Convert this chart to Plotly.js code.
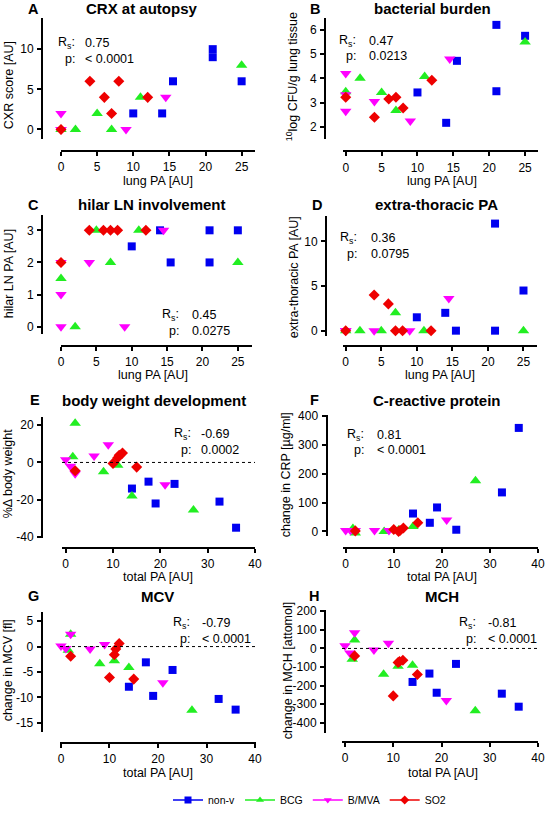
<!DOCTYPE html>
<html>
<head>
<meta charset="utf-8">
<script src="https://cdn.plot.ly/plotly-3.0.1.min.js"></script>
<style>html,body{margin:0;padding:0;background:#fff;}#chart{width:547px;height:815px;}</style>
</head>
<body>
<div id="chart"></div>
<script>
// ---------- DATA ----------
const groups = ['non-v', 'BCG', 'B/MVA', 'SO2'];

// Lung PA (x for panels A-D)
const lungPA_nonv = [10, 14, 15.5, 21, 21, 25];
const lungPA_bcg  = [0, 2, 5, 7, 11, 25];
const lungPA_bmva = [0, 0, 0, 4, 9, 14.5];
const lungPA_so2  = [0, 4, 6, 7, 8, 12];

// A: CXR score
const cxr_nonv = [2, 2, 6, 10, 9, 6];
const cxr_bcg  = [0, 0, 2, 0, 4, 8];
const cxr_bmva = [2, 0, 0, null, 0, 4];
const cxr_so2  = [0, 6, 4, 2, 6, 4];

// B: 10log CFU/g lung tissue
const cfu_nonv = [3.42, 2.17, 4.72, 6.2, 3.47, 5.75];
const cfu_bcg  = [3.45, 4.0, 3.42, 2.68, 4.08, 5.5];
const cfu_bmva = [4.2, 2.65, 3.32, 3.05, 2.25, 4.8];
const cfu_so2  = [3.22, 2.4, 3.15, 3.22, 2.78, 3.92];

// C: hilar LN PA
const hilar_nonv = [2.5, 3, 2, 3, 2, 3];
const hilar_bcg  = [1.5, 0, 3, 2, 3, 2];
const hilar_bmva = [2, 1, 0, 2, 0, 3];
const hilar_so2  = [2, 3, 3, 3, 3, 3];

// D: extra-thoracic PA
const extra_nonv = [1.5, 2, 0, 12, 0, 4.5];
const extra_bcg  = [0, 0, 0, 2, 0, 0];
const extra_bmva = [0, 0, 0, 0, 0, 3.6];
const extra_so2  = [0, 4, 3, 0, 0, 0];

// Total PA (x for panels E-H)
const totalPA_nonv = [14, 17.5, 19, 23, 32.5, 36];
const totalPA_bcg  = [1.5, 2, 8, 11, 14, 27];
const totalPA_bmva = [0, 1, 2, 6, 9, 21];
const totalPA_so2  = [2, 10, 11, 11.3, 12, 15];

// E: % change body weight
const bw_nonv = [-14, -10.3, -22, -11.5, -21, -35];
const bw_bcg  = [3, 21, -5, -1.5, -18, -25.5];
const bw_bmva = [1.5, -2, -6, 3.5, 9.5, -12];
const bw_so2  = [-4.5, -0.5, 2.5, 3.8, 5, -2.5];

// F: change in CRP
const crp_nonv = [62, 30, 83, 6, 135, 358];
const crp_bcg  = [10, -5, 0, 5, 17, 175];
const crp_bmva = [3, 3, 3, 3, 3, 40];
const crp_so2  = [2, 7, 0, 3, 12, 30];

// G: change in MCV
const mcv_nonv = [-7.9, -3.1, -9.7, -4.6, -10.3, -12.4];
const mcv_bcg  = [-0.7, 2.4, -3.4, -2.8, -4.1, -12.5];
const mcv_bmva = [0.1, -0.4, 2.4, -0.5, 0.4, -7.1];
const mcv_so2  = [-1.9, -6.1, -1.6, -0.5, 0.6, -6.4];

// H: change in MCH
const mch_nonv = [-180, -135, -238, -83, -243, -313];
const mch_bcg  = [-58, 45, -138, -95, -90, -335];
const mch_bmva = [15, -25, 85, -8, 28, -280];
const mch_so2  = [-40, -255, -75, -70, -63, -140];

// Tick values
const xTicksLung  = [0, 5, 10, 15, 20, 25];
const xTicksTotal = [0, 10, 20, 30, 40];
const yTicksA = [0, 5, 10];
const yTicksB = [2, 3, 4, 5, 6];
const yTicksC = [0, 1, 2, 3];
const yTicksD = [0, 5, 10];
const yTicksE = [-40, -20, 0, 20];
const yTicksF = [0, 100, 200, 300, 400];
const yTicksG = [-15, -10, -5, 0, 5];
const yTicksH = [-400, -300, -200, -100, 0, 100, 200];

// Stats labels
const rsVals = ['0.75', '0.47', '0.45', '0.36', '-0.69', '0.81', '-0.79', '-0.81'];
const pVals  = ['< 0.0001', '0.0213', '0.0275', '0.0795', '0.0002', '< 0.0001', '< 0.0001', '< 0.0001'];
const panelLetters = ['A','B','C','D','E','F','G','H'];
const panelTitles = ['CRX at autopsy', 'bacterial burden', 'hilar LN involvement', 'extra-thoracic PA',
                     'body weight development', 'C-reactive protein', 'MCV', 'MCH'];
const xTitles = ['lung PA [AU]', 'lung PA [AU]', 'lung PA [AU]', 'lung PA [AU]',
                 'total PA [AU]', 'total PA [AU]', 'total PA [AU]', 'total PA [AU]'];
const yTitles = ['CXR score [AU]', '<sup>10</sup>log CFU/g lung tissue', 'hilar LN PA [AU]', 'extra-thoracic PA [AU]',
                 '%\u0394 body weight', 'change in CRP [\u00b5g/ml]', 'change in MCV [fl]', 'change in MCH [attomol]'];

// ---------- STYLE / LAYOUT CONFIG ----------
const W = 547, H = 815;
const colors = ['#0000F0', '#22EE22', '#FF00FF', '#EE0000'];
const symbols = ['square', 'triangle-up', 'triangle-down', 'diamond'];
const sizes = [8, 10, 10, 8.5];
const FONT = 'Liberation Sans, Arial, Helvetica, sans-serif';
const LW = 2, TL = 4;

const lungX = [lungPA_nonv, lungPA_bcg, lungPA_bmva, lungPA_so2];
const totX = [totalPA_nonv, totalPA_bcg, totalPA_bmva, totalPA_so2];
const panelData = [
  [lungX, [cxr_nonv, cxr_bcg, cxr_bmva, cxr_so2], xTicksLung, yTicksA],
  [lungX, [cfu_nonv, cfu_bcg, cfu_bmva, cfu_so2], xTicksLung, yTicksB],
  [lungX, [hilar_nonv, hilar_bcg, hilar_bmva, hilar_so2], xTicksLung, yTicksC],
  [lungX, [extra_nonv, extra_bcg, extra_bmva, extra_so2], xTicksLung, yTicksD],
  [totX, [bw_nonv, bw_bcg, bw_bmva, bw_so2], xTicksTotal, yTicksE],
  [totX, [crp_nonv, crp_bcg, crp_bmva, crp_so2], xTicksTotal, yTicksF],
  [totX, [mcv_nonv, mcv_bcg, mcv_bmva, mcv_so2], xTicksTotal, yTicksG],
  [totX, [mch_nonv, mch_bcg, mch_bmva, mch_so2], xTicksTotal, yTicksH]
];

// geometry in pixels
const geo = [
  {xdom:[61,255], xr:[0,26.85], ydom:[18,140.5], yr:[-1.2,13.9], xAxY:152, yAxX:42,
   letterX:33, titleX:142, titleY:9, xtX:158, xtY:182.5, ytX:9, ytY:86, sRx:77, sVx:83, sY1:43.5, sY2:60, zero:false},
  {xdom:[343,538], xr:[-0.38,26.8], ydom:[18,140], yr:[1.52,6.49], xAxY:153, yAxX:325,
   letterX:315, titleX:432, titleY:9, xtX:442, xtY:182.5, ytX:292, ytY:78, sRx:358, sVx:367, sY1:41, sY2:57, zero:false},
  {xdom:[61,252], xr:[0,27.0], ydom:[216.7,337.7], yr:[-0.24,3.49], xAxY:349.3, yAxX:42,
   letterX:33, titleX:152, titleY:207, xtX:153, xtY:378.5, ytX:9, ytY:277, sRx:181, sVx:190, sY1:318.5, sY2:334, zero:false},
  {xdom:[343,537], xr:[-0.38,26.9], ydom:[217.7,339], yr:[-0.56,12.9], xAxY:349, yAxX:326,
   letterX:317, titleX:436, titleY:207, xtX:440, xtY:378.5, ytX:294, ytY:280, sRx:359, sVx:369, sY1:240, sY2:257, zero:false},
  {xdom:[62,255], xr:[-0.78,40], ydom:[420.7,543.3], yr:[-40.5,24.6], xAxY:553.3, yAxX:42,
   letterX:35, titleX:154, titleY:404, xtX:158, xtY:582.5, ytX:8, ytY:479, sRx:193, sVx:199, sY1:438.5, sY2:454.5, zero:true},
  {xdom:[343,538], xr:[-0.56,40], ydom:[419.3,541.7], yr:[-17,402], xAxY:553.3, yAxX:326.5,
   letterX:314, titleX:437, titleY:404, xtX:442, xtY:582.5, ytX:286, ytY:480, sRx:366, sVx:375, sY1:439.5, sY2:454.5, zero:false},
  {xdom:[60,256], xr:[-0.2,40.2], ydom:[617.7,739], yr:[-16.75,6.87], xAxY:750, yAxX:41.7,
   letterX:33, titleX:157, titleY:602, xtX:158, xtY:780.5, ytX:8, ytY:677, sRx:191.5, sVx:200, sY1:629, sY2:645, zero:true},
  {xdom:[342,538], xr:[-0.62,40], ydom:[615.7,740], yr:[-453,208.5], xAxY:749, yAxX:325,
   letterX:314, titleX:442, titleY:602, xtX:443, xtY:781, ytX:288, ytY:677, sRx:478, sVx:486, sY1:629, sY2:645, zero:true}
];

const px = p => p / W;
const py = p => 1 - p / H;

// ---------- BUILD ----------
const traces = [];
const layout = {
  width: W, height: H,
  margin: {l:0, r:0, t:0, b:0},
  paper_bgcolor: '#ffffff', plot_bgcolor: 'rgba(0,0,0,0)',
  font: {family: FONT, size: 12, color: '#000'},
  showlegend: true,
  legend: {orientation: 'h', x: px(168), xanchor: 'left', y: py(808), yanchor: 'middle',
           font: {family: FONT, size: 10.5, color: '#000'}, itemwidth: 30, tracegroupgap: 0,
           bgcolor: 'rgba(0,0,0,0)'},
  annotations: [], shapes: []
};

panelData.forEach((pd, i) => {
  const n = i + 1;
  const g = geo[i];
  const xa = 'x' + (n === 1 ? '' : n), ya = 'y' + (n === 1 ? '' : n);
  const xKey = 'xaxis' + (n === 1 ? '' : n), yKey = 'yaxis' + (n === 1 ? '' : n);
  const axCommon = {showline: true, linecolor: '#000000', linewidth: LW, ticks: 'outside', ticklen: TL,
                    tickwidth: LW, tickcolor: '#000000', showgrid: false, zeroline: false,
                    tickfont: {family: FONT, size: 12, color: '#000'}, fixedrange: true};
  layout[xKey] = Object.assign({}, axCommon, {
    domain: [px(g.xdom[0]), px(g.xdom[1])], range: g.xr, anchor: 'free', position: py(g.xAxY),
    tickmode: 'array', tickvals: pd[2], ticktext: pd[2].map(String), ticklabelstandoff: 1
  });
  layout[yKey] = Object.assign({}, axCommon, {
    domain: [py(g.ydom[1]), py(g.ydom[0])], range: g.yr, anchor: 'free', position: px(g.yAxX),
    tickmode: 'array', tickvals: pd[3], ticktext: pd[3].map(String), ticklabelstandoff: 1
  });

  groups.forEach((grp, k) => {
    traces.push({
      type: 'scatter', mode: 'markers', x: pd[0][k], y: pd[1][k], xaxis: xa, yaxis: ya,
      name: grp, showlegend: false, cliponaxis: false,
      marker: {symbol: symbols[k], size: sizes[k], color: colors[k], line: {width: 0}}
    });
  });
  if (g.zero) {
    layout.shapes.push({type: 'line', xref: xa, yref: ya, x0: g.xr[0], x1: g.xr[1], y0: 0, y1: 0,
                        line: {color: '#000', width: 1, dash: 'dot'}});
  }
  const A = layout.annotations;
  const ann = (text, x, y, o) => A.push(Object.assign({text, x: px(x), y: py(y), xref: 'paper', yref: 'paper',
     showarrow: false, xanchor: 'center', yanchor: 'middle', font: {family: FONT, size: 12, color: '#000'}}, o || {}));
  ann('<b>' + panelLetters[i] + '</b>', g.letterX, g.titleY, {font: {family: FONT, size: 14.5, color: '#000'}});
  ann('<b>' + panelTitles[i] + '</b>', g.titleX, g.titleY, {font: {family: FONT, size: 15, color: '#000'}});
  ann(xTitles[i], g.xtX, g.xtY, {font: {family: FONT, size: 12.5, color: '#000'}});
  ann(yTitles[i], g.ytX, g.ytY, {textangle: -90, font: {family: FONT, size: 12.5, color: '#000'}});
  ann('R<sub>s</sub>:', g.sRx, g.sY1, {xanchor: 'right', font: {family: FONT, size: 12.5, color: '#000'}});
  ann('p:', g.sRx, g.sY2, {xanchor: 'right', font: {family: FONT, size: 12.5, color: '#000'}});
  ann(rsVals[i], g.sVx, g.sY1, {xanchor: 'left', font: {family: FONT, size: 12.5, color: '#000'}});
  ann(pVals[i], g.sVx, g.sY2, {xanchor: 'left', font: {family: FONT, size: 12.5, color: '#000'}});
});

// legend-only traces
groups.forEach((grp, k) => {
  traces.push({type: 'scatter', mode: 'lines+markers', x: [null], y: [null], name: grp,
    xaxis: 'x', yaxis: 'y', showlegend: true,
    line: {color: colors[k], width: 1.5},
    marker: {symbol: symbols[k], size: 7, color: colors[k]}});
});

Plotly.newPlot('chart', traces, layout, {staticPlot: true, displayModeBar: false});
</script>
</body>
</html>
